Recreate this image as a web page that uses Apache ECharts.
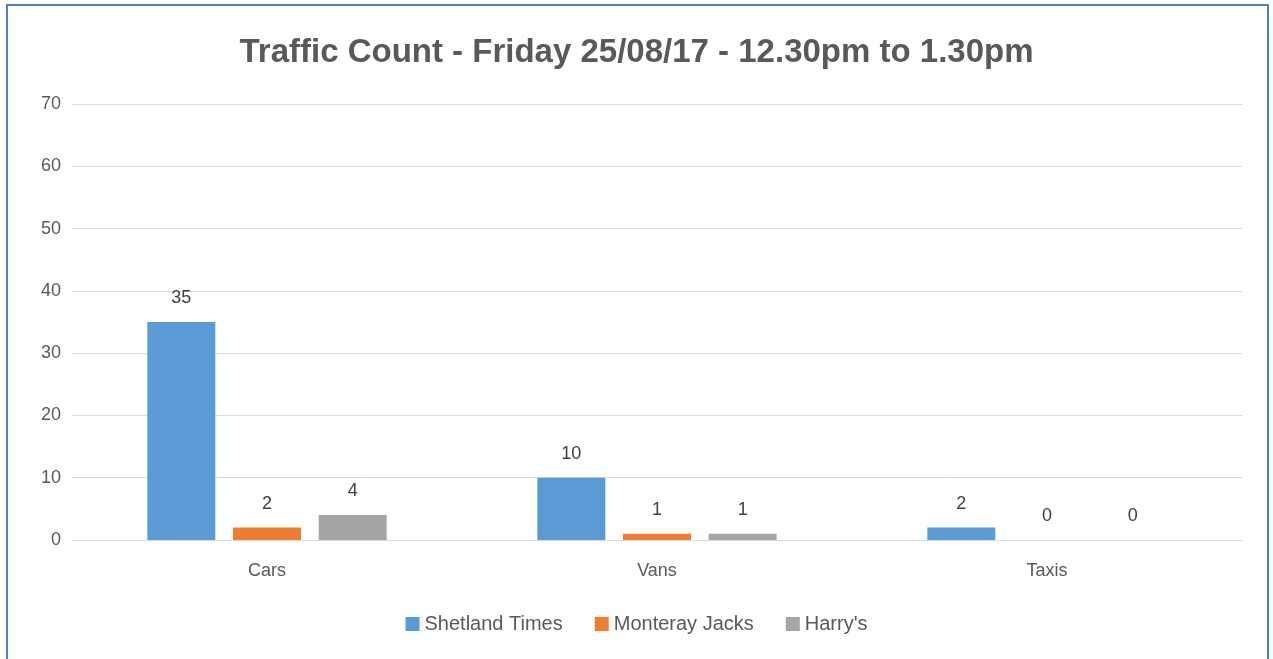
<!DOCTYPE html>
<html><head><meta charset="utf-8">
<script src="https://cdn.jsdelivr.net/npm/echarts@6/dist/echarts.min.js"></script>
<style>
html,body{margin:0;padding:0;background:#fff;overflow:hidden}
#frame{position:absolute;left:6px;top:4px;width:1263px;height:700px;border:2px solid #4f81bd;box-sizing:border-box}
#c{position:absolute;left:0;top:0;width:1273px;height:659px}
</style></head><body>
<div id="frame"></div>
<div id="c"></div>
<script>
const categories = ['Cars', 'Vans', 'Taxis'];
const seriesNames = ['Shetland Times', 'Monteray Jacks', "Harry's"];
const shetlandTimes = [35, 10, 2];
const montereyJacks = [2, 1, 0];
const harrys = [4, 1, 0];
const colors = ['#5b9bd5', '#ed7d31', '#a5a5a5'];
const font = '"Liberation Sans", "Open Sans", sans-serif';
const chart = echarts.init(document.getElementById('c'));
const mk = (name, data, color) => ({
  name, type: 'bar', data, barWidth: 68, barGap: '26%',
  itemStyle: { color },
  label: { show: true, position: 'top', distance: 15, color: '#404040', fontSize: 18, fontFamily: font }
});
chart.setOption({
  backgroundColor: 'transparent',
  animation: false,
  color: colors,
  title: {
    text: 'Traffic Count - Friday 25/08/17 - 12.30pm to 1.30pm',
    left: 'center', top: 31,
    textStyle: { color: '#595959', fontSize: 33, fontWeight: 'bold', fontFamily: font }
  },
  legend: {
    bottom: 20, left: 'center', itemWidth: 14, itemHeight: 14, itemGap: 32,
    icon: 'rect',
    textStyle: { color: '#595959', fontSize: 20, fontFamily: font },
    data: seriesNames
  },
  grid: { left: 72, right: 31, top: 104, bottom: 119 },
  xAxis: {
    type: 'category', data: categories,
    axisLine: { lineStyle: { color: '#d9d9d9', width: 1 } },
    axisTick: { show: false },
    axisLabel: { color: '#595959', fontSize: 18, margin: 22, fontFamily: font }
  },
  yAxis: {
    type: 'value', min: 0, max: 70, interval: 10,
    axisLine: { show: false }, axisTick: { show: false },
    splitLine: { lineStyle: { color: '#d9d9d9', width: 1 } },
    axisLabel: { color: '#595959', fontSize: 18, margin: 11, fontFamily: font }
  },
  series: [
    mk(seriesNames[0], shetlandTimes, colors[0]),
    mk(seriesNames[1], montereyJacks, colors[1]),
    mk(seriesNames[2], harrys, colors[2])
  ]
});
</script></body></html>
